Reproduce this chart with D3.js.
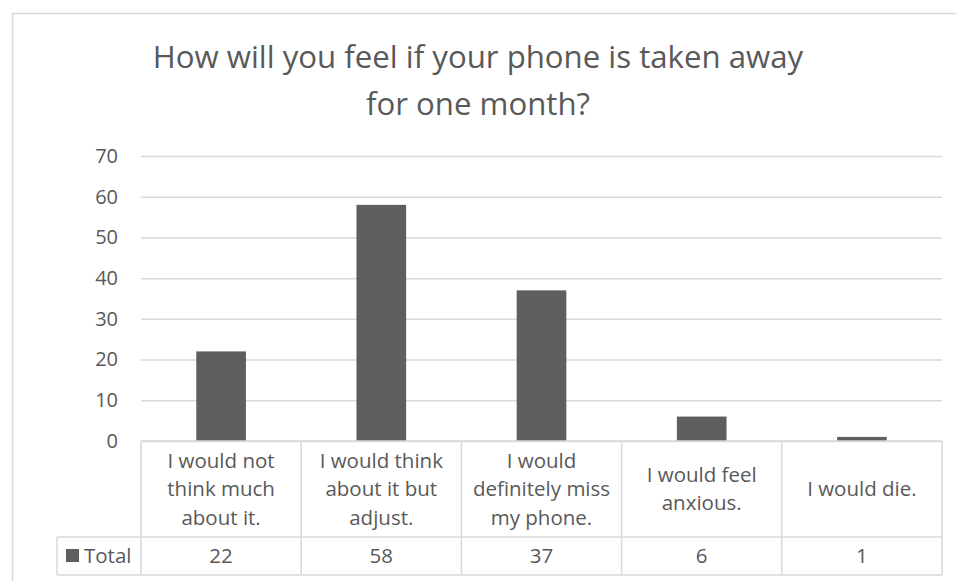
<!DOCTYPE html>
<html>
<head>
<meta charset="utf-8">
<script src="https://cdn.jsdelivr.net/npm/d3@7"></script>
<style>
  html, body { margin: 0; padding: 0; background: #fff; }
  svg { display: block; }
  text { font-family: "Open Sans", "Noto Sans", sans-serif; fill: #595959; }
</style>
</head>
<body>
<svg id="chart" width="956" height="581"></svg>
<script>
// Survey answers and counts
const categories = [
  ["I would not", "think much", "about it."],
  ["I would think", "about it but", "adjust."],
  ["I would", "definitely miss", "my phone."],
  ["I would feel", "anxious."],
  ["I would die."]
];
const totals = [22, 58, 37, 6, 1];
const yTicks = [0, 10, 20, 30, 40, 50, 60, 70];
const seriesName = "Total";
const titleLines = ["How will you feel if your phone is taken away", "for one month?"];

const svg = d3.select("#chart");
const gridColor = "#d9d9d9";
const barColor = "#5f5f5f";

const plot = { left: 141, right: 942, top: 156, bottom: 441 };
const labelRowBottom = 537, valueRowBottom = 575, legendLeft = 57;
const tableFont = 20.5;

// Chart frame
svg.append("rect")
  .attr("x", 12.5).attr("y", 13.5)
  .attr("width", 1000).attr("height", 700)
  .attr("fill", "none").attr("stroke", gridColor).attr("stroke-width", 1.5);

// Title
svg.append("text")
  .attr("text-anchor", "middle")
  .attr("font-size", 31.2)
  .selectAll("tspan").data(titleLines).join("tspan")
  .attr("x", 478)
  .attr("y", (d, i) => 68 + i * 46.5)
  .text(d => d);

const x = d3.scaleBand()
  .domain(d3.range(categories.length))
  .range([plot.left, plot.right])
  .paddingInner(0).paddingOuter(0);

const y = d3.scaleLinear().domain([0, 70]).range([plot.bottom, plot.top]);

// Gridlines and value axis labels
const yAxis = d3.axisLeft(y).tickValues(yTicks)
  .tickSize(-(plot.right - plot.left)).tickPadding(23);
const gy = svg.append("g").attr("transform", `translate(${plot.left},0)`).call(yAxis);
gy.select(".domain").remove();
gy.selectAll(".tick line").attr("stroke", gridColor).attr("stroke-width", 1.5);
gy.selectAll(".tick text")
  .attr("font-size", 20).attr("fill", "#595959")
  .attr("font-family", "'Open Sans', sans-serif");

// Bars
const barW = x.bandwidth() * 0.31;
svg.append("g").selectAll("rect").data(totals).join("rect")
  .attr("x", (d, i) => x(i) + (x.bandwidth() - barW) / 2)
  .attr("y", d => y(d))
  .attr("width", barW)
  .attr("height", d => y(0) - y(d))
  .attr("fill", barColor);

// Data table beneath the plot
const tbl = svg.append("g").attr("stroke", gridColor).attr("stroke-width", 1.5).attr("fill", "none");
const hLine = (x1, x2, yy) => tbl.append("line").attr("x1", x1).attr("x2", x2).attr("y1", yy).attr("y2", yy);
const vLine = (xx, y1, y2) => tbl.append("line").attr("x1", xx).attr("x2", xx).attr("y1", y1).attr("y2", y2);
hLine(plot.left, plot.right, plot.bottom);
hLine(legendLeft, plot.right, labelRowBottom);
hLine(legendLeft, plot.right, valueRowBottom);
vLine(legendLeft, labelRowBottom, valueRowBottom);
d3.range(categories.length + 1).forEach(i => {
  const xx = i < categories.length ? x(i) : plot.right;
  vLine(xx, plot.bottom, valueRowBottom);
});

// Category labels
const lineH = 28.5;
const cellMid = (plot.bottom + labelRowBottom) / 2;
svg.append("g").selectAll("text").data(categories).join("text")
  .attr("text-anchor", "middle")
  .attr("font-size", tableFont)
  .each(function(lines, i) {
    const cx = x(i) + x.bandwidth() / 2;
    const startY = cellMid - (lines.length - 1) * lineH / 2 + 7;
    d3.select(this).selectAll("tspan").data(lines).join("tspan")
      .attr("x", cx).attr("y", (d, j) => startY + j * lineH).text(d => d);
  });

// Values row
svg.append("g").selectAll("text").data(totals).join("text")
  .attr("text-anchor", "middle")
  .attr("font-size", tableFont)
  .attr("x", (d, i) => x(i) + x.bandwidth() / 2)
  .attr("y", (labelRowBottom + valueRowBottom) / 2 + 7)
  .text(d => d);

// Legend key in the table
svg.append("rect").attr("x", 66).attr("y", 549).attr("width", 13).attr("height", 13).attr("fill", barColor);
svg.append("text").attr("x", 84).attr("y", (labelRowBottom + valueRowBottom) / 2 + 7)
  .attr("font-size", tableFont).text(seriesName);
</script>
</body>
</html>
